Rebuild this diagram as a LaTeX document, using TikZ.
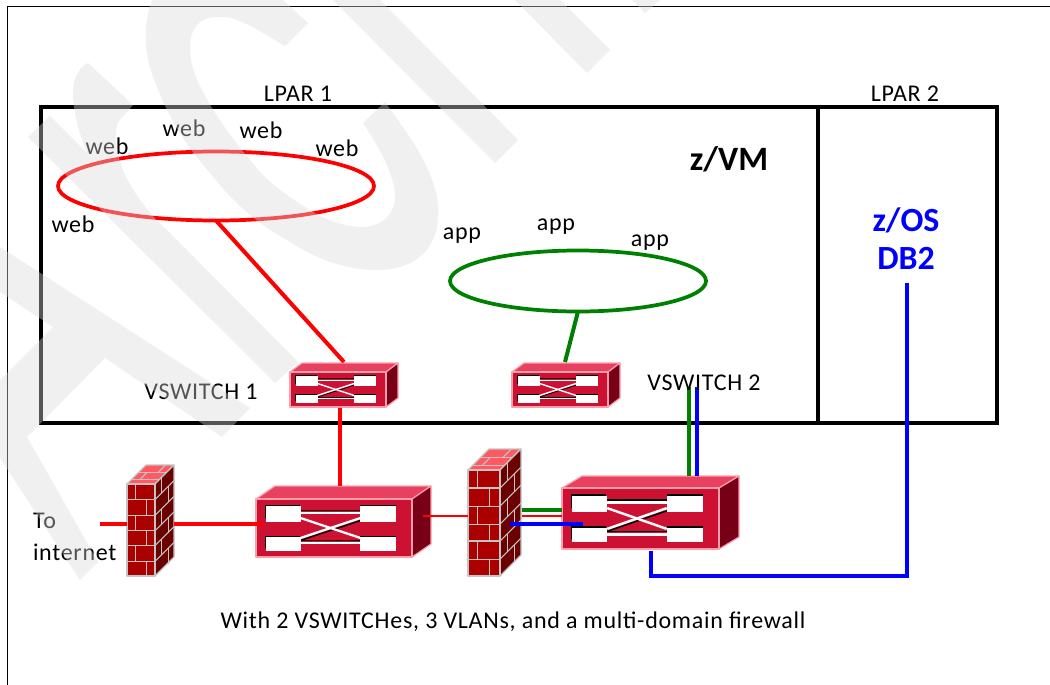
\documentclass[tikz,border=0pt]{standalone}
\usepackage{fontspec}
\setmainfont{Carlito}
\newfontfamily\lblfont[LetterSpace=3]{Carlito}
\usetikzlibrary{shapes.geometric}
\definecolor{swfront}{HTML}{CC1133}
\definecolor{swtop}{HTML}{E8405F}
\definecolor{swside}{HTML}{780016}
\definecolor{swline}{HTML}{FF9DAA}
\definecolor{brfront}{HTML}{AA0000}
\definecolor{brside}{HTML}{6A0000}
\definecolor{brtop}{HTML}{FF5A63}
\definecolor{mortar}{HTML}{C4C4C4}
\definecolor{lan}{HTML}{FF0000}
\definecolor{dmz}{HTML}{008000}
\definecolor{dbblue}{HTML}{0000FF}
\tikzset{
  lbl/.style={font=\lblfont\fontsize{18pt}{21pt}\selectfont,inner sep=0pt,outer sep=0pt,text=black},
  bigblue/.style={font=\fontsize{25.4pt}{30pt}\selectfont\bfseries,inner sep=0pt,outer sep=0pt,text=dbblue},
  bigblack/.style={font=\fontsize{25.6pt}{30pt}\selectfont\bfseries,inner sep=0pt,outer sep=0pt,text=black},
  ring/.style={draw=#1,ellipse,line width=2.8pt,inner sep=0pt,outer sep=0pt},
  frame/.style={draw=black,line width=3pt},
  wire/.style={draw=#1,line width=3pt},
  thinwire/.style={draw=#1,line width=2pt},
  swface/.style={draw=swline,line width=.9pt,line join=round},
  brface/.style={draw=mortar,line width=.9pt,line join=round},
  joint/.style={draw=mortar,line width=.8pt},
  anchorpt/.style={inner sep=0pt,outer sep=0pt,minimum size=0pt},
}
% #1 name, #2,#3 front top-left (px), #4 width, #5 height, #6 dx, #7 dy
\newcommand{\switchbox}[7]{%
  \node[anchorpt,minimum width=#4*.75pt,minimum height=#5*.75pt,anchor=north west] (#1) at (#2,#3) {};
  \begin{scope}[shift={(#2,#3)},x={(#4*.75pt,0)},y={(0,-#5*.75pt)}]
    \fill[swface,fill=swtop] (0,0) -- ++(#6/#4,-#7/#5) -- (1+#6/#4,-#7/#5) -- (1,0) -- cycle;
    \fill[swface,fill=swside] (1,0) -- (1+#6/#4,-#7/#5) -- (1+#6/#4,1-#7/#5) -- (1,1) -- cycle;
    \fill[swface,fill=swfront] (0,0) rectangle (1,1);
    % black shadow of the ports and the crossing
    \fill[black] (.055,.095) rectangle (.28,.33);
    \fill[black] (.055,.63) rectangle (.28,.84);
    \fill[black] (.667,.095) rectangle (.897,.30);
    \fill[black] (.667,.63) rectangle (.897,.80);
    \draw[black,line width=#5*.018pt] (.288,.195) -- (.667,.195);
    \draw[black,line width=#5*.018pt] (.288,.715) -- (.667,.715);
    \draw[black,line width=#5*.018pt] (.288,.71) -- (.667,.375);
    % white ports
    \fill[white] (.063,.125) rectangle (.288,.39);
    \fill[white] (.063,.66) rectangle (.288,.89);
    \fill[white] (.667,.125) rectangle (.897,.39);
    \fill[white] (.667,.66) rectangle (.897,.89);
    \draw[white,line width=#5*.03pt] (.288,.24) -- (.667,.24);
    \draw[white,line width=#5*.03pt] (.288,.76) -- (.667,.76);
    \draw[white,line width=#5*.03pt] (.288,.33) -- (.667,.67);
    \draw[white,line width=#5*.03pt] (.288,.67) -- (.667,.33);
  \end{scope}
}
% #1 name, #2,#3 front top-left (px), #4 width, #5 height, #6 dx, #7 dy
\newcommand{\brickwall}[7]{%
  \node[anchorpt,minimum width=#4*.75pt,minimum height=#5*.75pt,anchor=north west] (#1) at (#2,#3) {};
  \begin{scope}[shift={(#2,#3)},x={(#4*.75pt,0)},y={(0,-#5*.75pt)}]
    \pgfmathsetmacro{\sx}{#6/#4}
    \pgfmathsetmacro{\sy}{#7/#5}
    \fill[brface,fill=brtop] (0,0) -- (\sx,-\sy) -- (1+\sx,-\sy) -- (1,0) -- cycle;
    \fill[brface,fill=brside] (1,0) -- (1+\sx,-\sy) -- (1+\sx,1-\sy) -- (1,1) -- cycle;
    \fill[brface,fill=brfront] (0,0) rectangle (1,1);
    \foreach \r in {.17,.34,.51,.67,.84} {
      \draw[joint] (0,\r) -- (1,\r);
      \draw[joint] (1,\r) -- (1+\sx,\r-\sy);
    }
    \foreach \a/\b in {0/.17,.34/.51,.67/.84} \draw[joint] (.3,\a) -- (.3,\b);
    \foreach \a/\b in {.17/.34,.51/.67,.84/1} \draw[joint] (.68,\a) -- (.68,\b);
    \foreach \a in {.0,.34,.67} \draw[joint] (1+.35*\sx,\a+.17-.35*\sy) -- (1+.35*\sx,\a-.35*\sy);
    \foreach \a in {.17,.51,.84} \draw[joint] (1+.7*\sx,\a+.17-.7*\sy) -- (1+.7*\sx,\a-.7*\sy);
    \draw[joint] (.22*\sx,-.22*\sy) -- (1+.22*\sx,-.22*\sy);
    \draw[joint] (.6*\sx,-.6*\sy) -- (1+.6*\sx,-.6*\sy);
    \draw[joint] (.3+.22*\sx,-.22*\sy) -- (.3+.6*\sx,-.6*\sy);
    \draw[joint] (.7+.6*\sx,-.6*\sy) -- (.7+\sx,-\sy);
  \end{scope}
}
\begin{document}
\begin{tikzpicture}[x=.75pt,y=-.75pt]
\useasboundingbox (0,0) rectangle (1050,685);
\fill[white] (0,0) rectangle (1050,685);
% page border (top and left only)
\draw[black,line width=.8pt] (7.5,685) -- (7.5,6.5) -- (1050,6.5);
% LPAR frame
\draw[frame] (41,107) rectangle (997,423);
\draw[frame] (818,107) -- (818,423);
% rings
\node[ring=lan,minimum width=316*.75pt,minimum height=69*.75pt] (webring) at (216,186) {};
\node[ring=dmz,minimum width=256*.75pt,minimum height=61*.75pt] (appring) at (578,281) {};
% devices
\switchbox{vs1}{290}{372}{96}{35}{12}{9}
\switchbox{vs2}{512}{372}{96}{35}{12}{9}
\switchbox{core}{256}{499}{156}{58}{19}{13}
\switchbox{dist}{562}{488}{157}{61}{20}{12}
\brickwall{fwa}{127}{484}{28}{92}{19}{19}
\brickwall{fwb}{468}{470}{32}{106}{21}{21}
% connector end points
\coordinate (vs1in) at (344,362);
\coordinate (vs2in) at (565,362);
\coordinate (vs1out) at (340,408);
\coordinate (corein) at (340,486);
\coordinate (net) at (100,523.5);
\coordinate (fwaout) at (127,523.5);
\coordinate (fwaR) at (174,523.5);
\coordinate (coreL) at (263,523.5);
\coordinate (coreR) at (423,516);
\coordinate (fwbL) at (468,516);
\coordinate (fwbgr) at (522,510);
\coordinate (distgr) at (562,510);
\coordinate (fwbrd) at (522,516);
\coordinate (distrd) at (562,516);
\coordinate (fwbbl) at (510,524);
\coordinate (distbl) at (583,524);
\coordinate (gtop) at (689,387);
\coordinate (gbot) at (689,476);
\coordinate (btop) at (697,387);
\coordinate (bbot) at (697,476);
\coordinate (dbtop) at (907,283);
\coordinate (dbcnr) at (907,576);
\coordinate (distcnr) at (651,576);
\coordinate (distbot) at (651,551);
% connectors
\draw[wire=lan] (webring.south) -- (vs1in);
\draw[wire=dmz] (appring.south) -- (vs2in);
\draw[wire=lan] (vs1out) -- (corein);
\draw[wire=lan] (net) -- (fwaout);
\draw[wire=lan] (fwaR) -- (coreL);
\draw[thinwire=lan] (coreR) -- (fwbL);
\draw[wire=dmz] (fwbgr) -- (distgr);
\draw[thinwire=lan] (fwbrd) -- (distrd);
\draw[wire=dbblue] (fwbbl) -- (distbl);
\draw[wire=dmz] (gtop) -- (gbot);
\draw[wire=dbblue] (btop) -- (bbot);
\draw[wire=dbblue,line join=miter] (dbtop) -- (dbcnr) -- (distcnr) -- (distbot);
% labels
\node[lbl] (lpa) at (298,94) {LPAR 1};
\node[lbl] (lpb) at (905,94) {LPAR 2};
\node[lbl] (w1) at (107,146) {web};
\node[lbl] (w2) at (184,128) {web};
\node[lbl] (w3) at (261,130) {web};
\node[lbl] (w4) at (337,148) {web};
\node[lbl] (w5) at (73,224) {web};
\node[lbl] (a1) at (462,236) {app};
\node[lbl] (a2) at (556,227) {app};
\node[lbl] (a3) at (650,243) {app};
\node[lbl] (vl1) at (201,392) {VSWITCH 1};
\node[lbl] (vl2) at (704,383) {VSWITCH 2};
\node[lbl,anchor=west] (to) at (33,521) {To};
\node[lbl,anchor=west] (inet) at (33,552) {internet};
\node[lbl] (cap) at (513,622) {With 2 VSWITCHes, 3 VLANs, and a multi-domain firewall};
\node[bigblack] (zvm) at (729,159) {z/VM};
\node[bigblue] (zos) at (906,220) {z/OS};
\node[bigblue] (db2) at (906,258) {DB2};
% watermark
\fill[black!15,fill opacity=.39]
  (0,247) -- (250,408) -- (222,437) -- (105,358) -- (27,437) -- (98,562) -- (80,580) -- (0,458) -- (0,380) -- (53,327) -- (0,292) -- cycle
  (28,137) -- (50,116) -- (87,153)
    .. controls (78,130) and (73,110) .. (73,92)
    .. controls (73,80) and (78,68) .. (88,63)
    -- (133,105) -- (118,122)
    .. controls (113,135) and (118,160) .. (125,175)
    .. controls (135,195) and (150,215) .. (167,230)
    -- (298,362) -- (275,383) -- cycle
  (152,0) .. controls (143,25) and (143,55) .. (157,87)
    .. controls (172,125) and (190,150) .. (210,173)
    .. controls (235,205) and (260,225) .. (287,240)
    .. controls (320,262) and (350,270) .. (377,270)
    .. controls (400,270) and (420,262) .. (430,245)
    .. controls (440,230) and (440,205) .. (435,190)
    .. controls (428,160) and (405,130) .. (385,102)
    -- (363,123)
    .. controls (378,145) and (395,175) .. (395,197)
    .. controls (395,215) and (380,227) .. (363,227)
    .. controls (345,227) and (325,220) .. (310,210)
    .. controls (285,195) and (265,180) .. (250,160)
    .. controls (225,130) and (205,100) .. (195,75)
    .. controls (188,55) and (188,35) .. (197,25)
    .. controls (205,15) and (225,15) .. (237,20)
    .. controls (255,27) and (270,37) .. (285,46)
    -- (308,23) -- (283,0) -- cycle
  (333,0) -- (380,0) -- (518,140) -- (495,163) -- cycle
  (515,0) -- (560,0) -- (610,50) -- (587,73) -- cycle
  (632,0) -- (645,13) -- (660,0) -- cycle;
\end{tikzpicture}
\end{document}
